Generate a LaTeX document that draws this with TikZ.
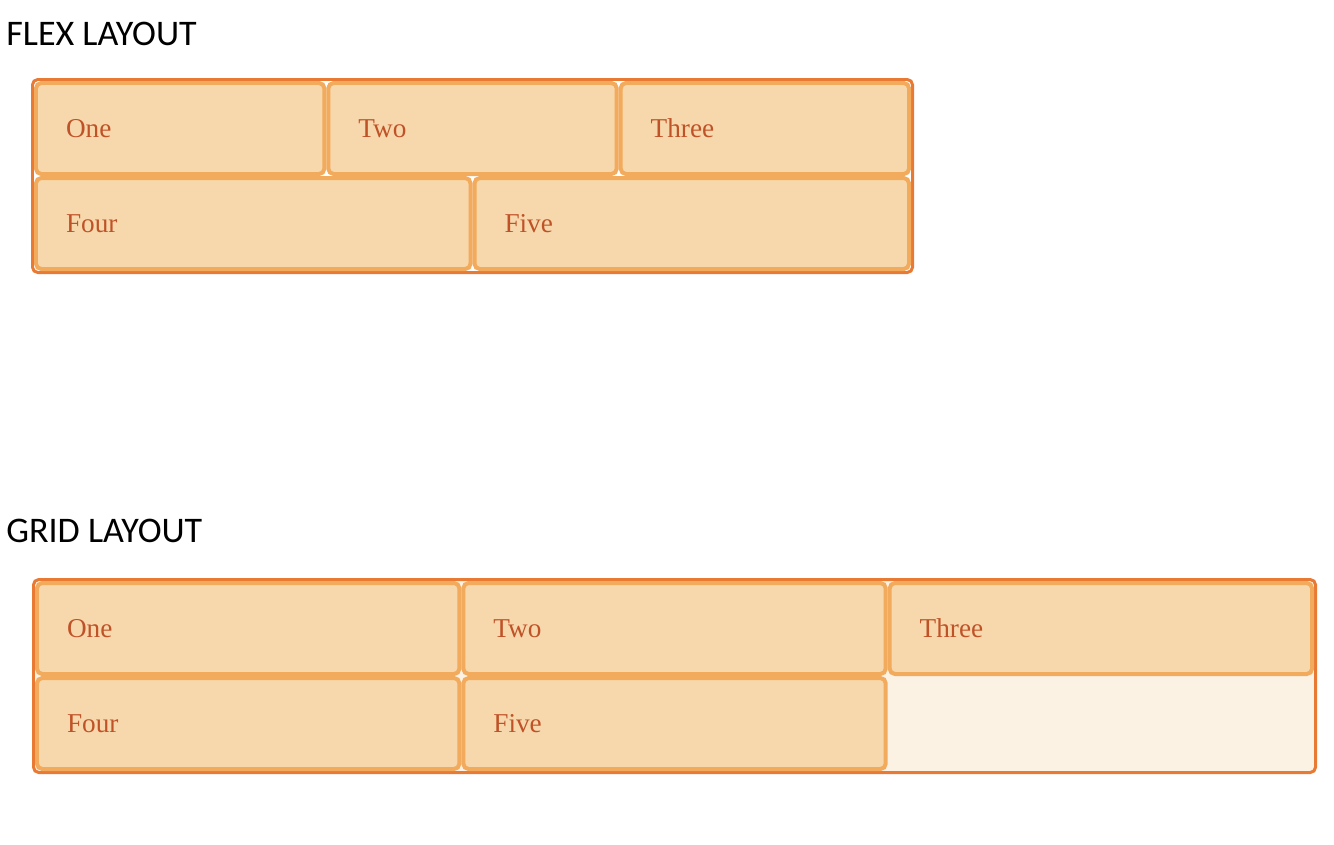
\documentclass[tikz,border=0pt]{standalone}
\usepackage{fontspec}
\setmainfont{Liberation Serif}
\newfontfamily\titlefont{Carlito}
\usetikzlibrary{positioning}
\definecolor{boxorange}{RGB}{232,122,52}
\definecolor{itemedge}{RGB}{242,170,92}
\definecolor{itemfill}{RGB}{247,216,172}
\definecolor{cream}{RGB}{252,242,228}
\definecolor{labelred}{RGB}{192,82,40}
\tikzset{
  title/.style={anchor=base west, inner sep=0pt, font=\titlefont\fontsize{20.5}{24}\selectfont},
  container/.style={draw=boxorange, line width=1.7pt, rounded corners=3pt},
  item/.style={rectangle, draw=itemedge, fill=itemfill, line width=2.27pt,
    rounded corners=3pt, minimum height=1.82cm, inner xsep=0.6cm, inner ysep=0pt,
    outer sep=0pt, align=left, text=labelred, font=\fontsize{15.5}{18}\selectfont},
  third/.style={item, text width=4.567cm},
  half/.style={item, text width=7.49cm},
  gcell/.style={item, text width=7.247cm}
}
\begin{document}
\begin{tikzpicture}
  \useasboundingbox (0,0) rectangle (26.68,-16.88);

  % flex layout
  \node[title] (flextitle) at (0.12,-0.9) {FLEX LAYOUT};
  \draw[container, fill=white] (0.65,-1.59) rectangle (18.25,-5.45);
  \node[third, anchor=north west] (f1) at (0.72,-1.66) {One};
  \node[third, right=0.08cm of f1] (f2) {Two};
  \node[third, right=0.08cm of f2] (f3) {Three};
  \node[half, anchor=north west] (f4) at ([yshift=-0.08cm]f1.south west) {Four};
  \node[half, right=0.08cm of f4] (f5) {Five};

  % grid layout
  \node[title] (gridtitle) at (0.12,-10.84) {GRID LAYOUT};
  \draw[container, fill=cream] (0.67,-11.59) rectangle (26.31,-15.45);
  \node[gcell, anchor=north west] (g1) at (0.74,-11.66) {One};
  \node[gcell, right=0.08cm of g1] (g2) {Two};
  \node[gcell, right=0.08cm of g2] (g3) {Three};
  \node[gcell, anchor=north west] (g4) at ([yshift=-0.08cm]g1.south west) {Four};
  \node[gcell, right=0.08cm of g4] (g5) {Five};
\end{tikzpicture}
\end{document}
